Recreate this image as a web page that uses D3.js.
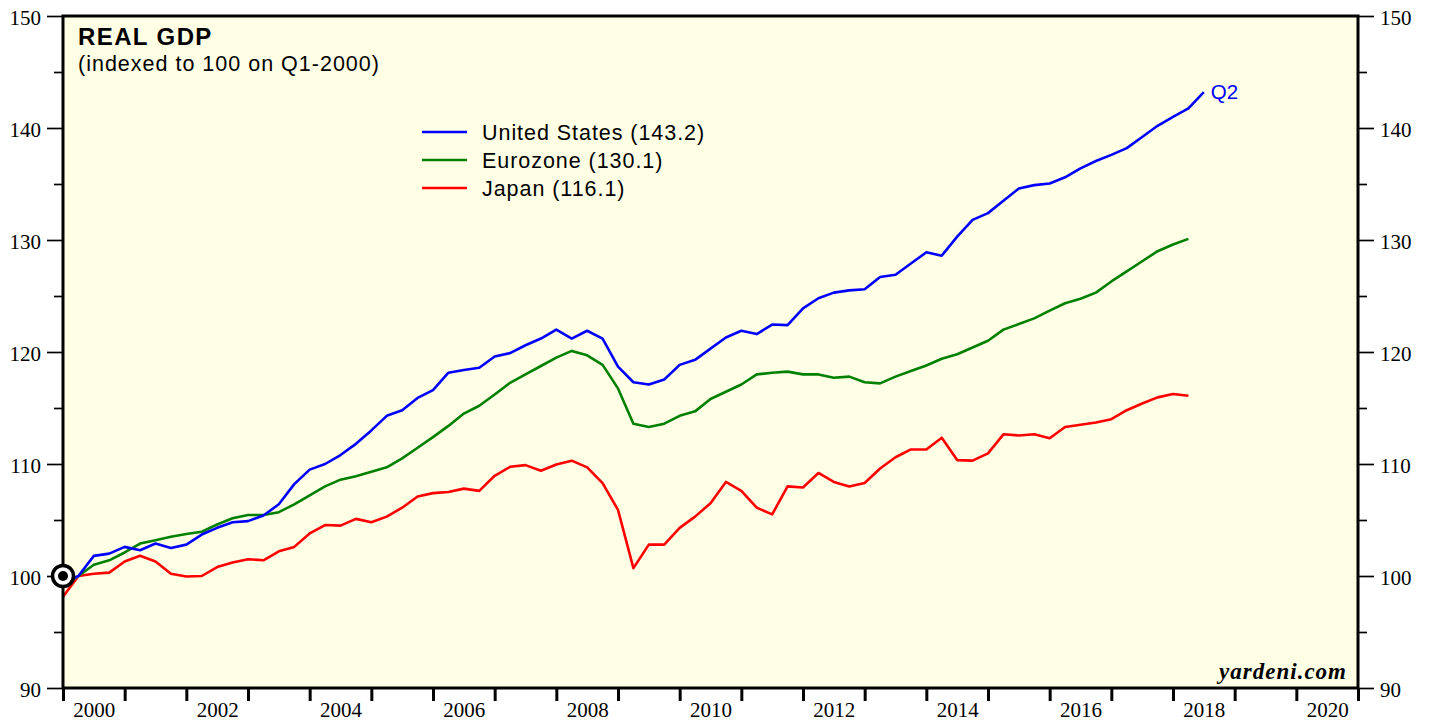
<!DOCTYPE html>
<html>
<head>
<meta charset="utf-8">
<script src="https://cdn.jsdelivr.net/npm/d3@7"></script>
<style>
  body { margin: 0; background: #fff; }
  .axis path { display: none; }
  .ylab text { font-family: "Liberation Serif", serif; font-size: 21px; fill: #000; }
  .xlab text { font-family: "Liberation Serif", serif; font-size: 21px; fill: #000; }
</style>
</head>
<body>
<div id="chart"></div>
<script>
// quarterly index values, Q4-1999 first, plotted at end of quarter
const firstQuarterEnd = 2000.0;
const usGdp = [99.4, 100.0, 101.8, 102.0, 102.6, 102.3, 102.9, 102.5, 102.8, 103.7,
  104.3, 104.8, 104.9, 105.4, 106.4, 108.2, 109.5, 110.0, 110.8, 111.8,
  113.0, 114.3, 114.8, 115.9, 116.6, 118.15, 118.4, 118.6, 119.6, 119.9,
  120.6, 121.2, 122.0, 121.2, 121.9, 121.2, 118.7, 117.3, 117.1, 117.55,
  118.85, 119.3, 120.3, 121.3, 121.9, 121.6, 122.45, 122.4, 123.9, 124.8,
  125.3, 125.5, 125.6, 126.7, 126.9, 127.9, 128.9, 128.6, 130.3, 131.8,
  132.4, 133.5, 134.6, 134.9, 135.05, 135.6, 136.4, 137.05, 137.6, 138.2,
  139.2, 140.2, 141.0, 141.75, 143.2];
const euroGdp = [99.1, 100.0, 101.0, 101.4, 102.1, 102.9, 103.2, 103.5, 103.75, 103.95,
  104.6, 105.15, 105.45, 105.45, 105.7, 106.4, 107.2, 108.0, 108.6, 108.9,
  109.3, 109.7, 110.5, 111.45, 112.4, 113.4, 114.5, 115.2, 116.2, 117.25,
  118.0, 118.75, 119.5, 120.1, 119.7, 118.85, 116.75, 113.6, 113.3, 113.6,
  114.3, 114.7, 115.8, 116.45, 117.1, 118.0, 118.15, 118.25, 118.0, 118.0,
  117.7, 117.8, 117.3, 117.2, 117.8, 118.3, 118.8, 119.4, 119.8, 120.4,
  121.0, 122.0, 122.5, 123.0, 123.7, 124.35, 124.75, 125.3, 126.3, 127.2,
  128.1, 129.0, 129.6, 130.1];
const japanGdp = [98.15, 100.0, 100.2, 100.3, 101.3, 101.8, 101.3, 100.2, 99.95, 100.0,
  100.8, 101.2, 101.5, 101.4, 102.2, 102.6, 103.8, 104.55, 104.5, 105.1,
  104.8, 105.3, 106.1, 107.1, 107.4, 107.5, 107.8, 107.6, 108.95, 109.75,
  109.9, 109.4, 109.95, 110.3, 109.7, 108.3, 105.9, 100.7, 102.8, 102.8,
  104.3, 105.3, 106.5, 108.4, 107.6, 106.1, 105.5, 108.0, 107.9, 109.2,
  108.4, 108.0, 108.3, 109.6, 110.6, 111.3, 111.3, 112.35, 110.35, 110.3,
  110.95, 112.65, 112.55, 112.65, 112.3, 113.3, 113.5, 113.7, 114.0, 114.8,
  115.4, 115.95, 116.25, 116.1];

const seriesNames = ['United States (143.2)', 'Eurozone (130.1)', 'Japan (116.1)'];
const seriesColors = ['#0000ff', '#008000', '#ff0000'];
const yearTicks = d3.range(2000, 2022);
const yearLabels = [2000, 2002, 2004, 2006, 2008, 2010, 2012, 2014, 2016, 2018, 2020];
const yMajor = [90, 100, 110, 120, 130, 140, 150];
const yMinor = [95, 105, 115, 125, 135, 145];

const W = 1431, H = 721;
const plot = { left: 63, right: 1358, top: 16, bottom: 688 };

const svg = d3.select('#chart').append('svg')
  .attr('width', W).attr('height', H);

const x = d3.scaleLinear().domain([2000, 2021]).range([plot.left, plot.right]);
const y = d3.scaleLinear().domain([90, 150]).range([plot.bottom, plot.top]);

svg.append('rect')
  .attr('x', plot.left).attr('y', plot.top)
  .attr('width', plot.right - plot.left).attr('height', plot.bottom - plot.top)
  .attr('fill', '#ffffe5');

// y axes left and right
const yAxes = [
  { gen: d3.axisLeft, pos: plot.left },
  { gen: d3.axisRight, pos: plot.right },
];
yAxes.forEach(a => {
  svg.append('g').attr('class', 'axis')
    .attr('transform', `translate(${a.pos},0)`)
    .call(a.gen(y).tickValues(yMinor).tickSize(9).tickFormat(''))
    .selectAll('line').attr('stroke-width', 1.7);
  const g = svg.append('g').attr('class', 'axis ylab')
    .attr('transform', `translate(${a.pos},0)`)
    .call(a.gen(y).tickValues(yMajor).tickSize(16).tickPadding(6));
  g.selectAll('line').attr('stroke-width', 1.7);
  g.selectAll('text').attr('dy', '0.4em');
});

// x axis ticks and labels
svg.append('g').attr('class', 'axis')
  .attr('transform', `translate(0,${plot.bottom})`)
  .call(d3.axisBottom(x).tickValues(yearTicks).tickSize(13).tickFormat(''))
  .selectAll('line').attr('stroke-width', 3);

svg.append('g').attr('class', 'axis xlab')
  .attr('transform', `translate(0,${plot.bottom})`)
  .call(d3.axisBottom(x).tickValues(yearLabels.map(d => d + 0.5)).tickSize(0)
    .tickPadding(14).tickFormat(d => Math.floor(d)))
  .selectAll('text').attr('dy', '0.71em');

// lines
const line = d3.line()
  .x((d, i) => x(firstQuarterEnd + i * 0.25))
  .y(d => y(d));

const allSeries = [usGdp, euroGdp, japanGdp];
[2, 1, 0].forEach(k => {
  svg.append('path')
    .datum(allSeries[k])
    .attr('d', line)
    .attr('fill', 'none')
    .attr('stroke', seriesColors[k])
    .attr('stroke-width', 2.6)
    .attr('stroke-linejoin', 'round');
});

// frame
svg.append('rect')
  .attr('x', plot.left).attr('y', plot.top)
  .attr('width', plot.right - plot.left).attr('height', plot.bottom - plot.top)
  .attr('fill', 'none').attr('stroke', '#000').attr('stroke-width', 3);

// base marker
svg.append('circle')
  .attr('cx', x(2000)).attr('cy', y(100)).attr('r', 10.5)
  .attr('fill', '#fff').attr('stroke', '#000').attr('stroke-width', 3.5);
svg.append('circle')
  .attr('cx', x(2000)).attr('cy', y(100)).attr('r', 5)
  .attr('fill', '#000');

// titles
const sans = '"Liberation Sans", Arial, sans-serif';
svg.append('text').attr('x', 78).attr('y', 45)
  .attr('font-family', sans).attr('font-size', 24).attr('font-weight', 'bold')
  .attr('letter-spacing', 1.4)
  .text('REAL GDP');
svg.append('text').attr('x', 78).attr('y', 71)
  .attr('font-family', sans).attr('font-size', 21.5).attr('letter-spacing', 1.0)
  .text('(indexed to 100 on Q1-2000)');

// legend
const legend = svg.append('g');
seriesNames.forEach((name, i) => {
  const ly = 132 + i * 28;
  legend.append('line')
    .attr('x1', 422).attr('x2', 467).attr('y1', ly).attr('y2', ly)
    .attr('stroke', seriesColors[i]).attr('stroke-width', 2.6);
  legend.append('text')
    .attr('x', 482).attr('y', ly + 7.5)
    .attr('font-family', sans).attr('font-size', 21.5).attr('letter-spacing', 0.95)
    .text(name);
});

// last quarter label
svg.append('text')
  .attr('x', x(firstQuarterEnd + (usGdp.length - 1) * 0.25) + 7)
  .attr('y', y(usGdp[usGdp.length - 1]) + 7)
  .attr('font-family', sans).attr('font-size', 20.5).attr('fill', '#0000ff')
  .text('Q2');

// source
svg.append('text')
  .attr('x', 1347).attr('y', 679)
  .attr('text-anchor', 'end')
  .attr('font-family', '"Liberation Serif", serif')
  .attr('font-size', 23).attr('font-weight', 'bold').attr('font-style', 'italic')
  .attr('letter-spacing', 1)
  .text('yardeni.com');
</script>
</body>
</html>
